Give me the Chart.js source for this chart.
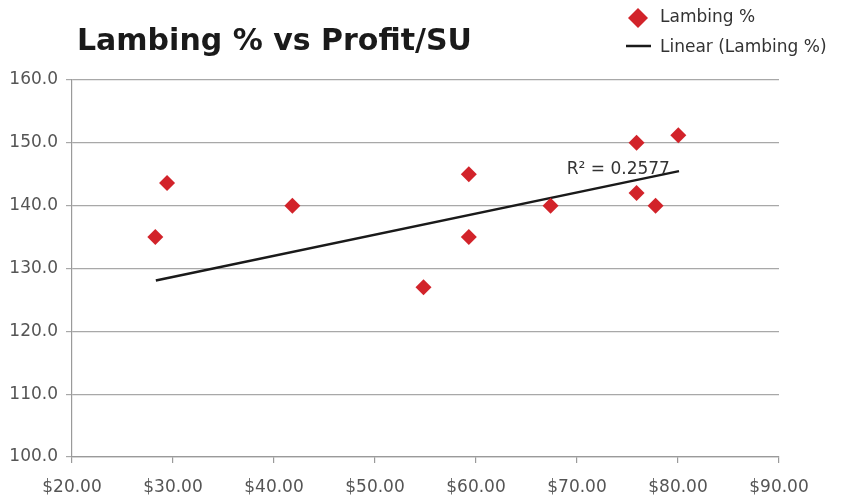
<!DOCTYPE html>
<html>
<head>
<meta charset="utf-8">
<script src="https://cdn.jsdelivr.net/npm/chart.js@4"></script>
<style>
html,body{margin:0;padding:0;background:#fff;}
#wrap{width:845px;height:499px;position:relative;}
</style>
</head>
<body>
<div id="wrap"><canvas id="c" width="845" height="499"></canvas></div>
<script>
// Data
const profitPerSU = [28.25, 29.41, 41.82, 54.80, 59.29, 59.29, 67.38, 75.90, 75.90, 77.78, 80.03];
const lambingPct  = [135.0, 143.6, 140.0, 127.0, 145.0, 135.0, 140.0, 150.0, 142.0, 140.0, 151.2];
const trendX = [28.3, 80.1];
const trendY = [128.1, 145.5];
const xTicks = [20, 30, 40, 50, 60, 70, 80, 90];
const yTicks = [100, 110, 120, 130, 140, 150, 160];
const chartTitle = "Lambing % vs Profit/SU";
const seriesName = "Lambing %";
const trendName = "Linear (Lambing %)";
const r2Label = "R² = 0.2577";
const r2Pos = {x: 79.2, y: 145.7};

const RED = '#D2232A';
const FONT = "'DejaVu Sans', sans-serif";

const scatterData = profitPerSU.map((x, i) => ({x: x, y: lambingPct[i]}));
const trendData = trendX.map((x, i) => ({x: x, y: trendY[i]}));

const extras = {
  id: 'extras',
  afterDraw(chart) {
    const ctx = chart.ctx;
    ctx.save();
    // Title
    ctx.fillStyle = '#1a1a1a';
    ctx.font = "bold 30px " + FONT;
    ctx.textBaseline = 'middle';
    ctx.textAlign = 'left';
    ctx.fillText(chartTitle, 77, 42);
    // Legend
    ctx.font = "17px " + FONT;
    const dx = 638, dy = 18, r = 10;
    ctx.beginPath();
    ctx.moveTo(dx, dy - r); ctx.lineTo(dx + r, dy); ctx.lineTo(dx, dy + r); ctx.lineTo(dx - r, dy);
    ctx.closePath();
    ctx.fillStyle = RED; ctx.fill();
    ctx.fillStyle = '#333';
    ctx.fillText(seriesName, 660, 18);
    ctx.strokeStyle = '#1a1a1a'; ctx.lineWidth = 2.5;
    ctx.beginPath(); ctx.moveTo(626, 46); ctx.lineTo(651, 46); ctx.stroke();
    ctx.fillText(trendName, 660, 48);
    // R² label
    const xs = chart.scales.x, ys = chart.scales.y;
    ctx.font = "17px " + FONT;
    ctx.fillStyle = '#333';
    ctx.textAlign = 'right';
    ctx.fillText(r2Label, xs.getPixelForValue(r2Pos.x), ys.getPixelForValue(r2Pos.y));
    ctx.restore();
  }
};

new Chart(document.getElementById('c'), {
  type: 'scatter',
  data: {
    datasets: [
      {
        label: trendName,
        data: trendData,
        showLine: true,
        borderColor: '#1a1a1a',
        borderWidth: 2.5,
        pointRadius: 0,
        fill: false,
        order: 2
      },
      {
        label: seriesName,
        data: scatterData,
        pointStyle: 'rectRot',
        pointRadius: 8,
        pointHoverRadius: 8,
        backgroundColor: RED,
        borderColor: RED,
        borderWidth: 0,
        order: 1
      }
    ]
  },
  options: {
    responsive: false,
    animation: false,
    events: [],
    layout: {padding: {top: 80, right: 66, left: 0, bottom: 0}},
    plugins: {legend: {display: false}, title: {display: false}, tooltip: {enabled: false}},
    scales: {
      x: {
        type: 'linear',
        min: xTicks[0], max: xTicks[xTicks.length - 1],
        afterBuildTicks: s => { s.ticks = xTicks.map(v => ({value: v})); },
        afterFit: s => { s.height = 42; },
        grid: {drawOnChartArea: false, color: '#9a9a9a', tickLength: 6, lineWidth: 1.2},
        border: {color: '#9a9a9a', width: 1.2},
        ticks: {
          color: '#555', font: {family: FONT, size: 17}, padding: 14,
          maxRotation: 0,
          callback: v => '$' + Number(v).toFixed(2)
        }
      },
      y: {
        type: 'linear',
        min: yTicks[0], max: yTicks[yTicks.length - 1],
        afterBuildTicks: s => { s.ticks = yTicks.map(v => ({value: v})); },
        afterFit: s => { s.width = 72; },
        grid: {color: '#a8a8a8', tickLength: 6, lineWidth: 1.2},
        border: {color: '#9a9a9a', width: 1.2},
        ticks: {
          color: '#555', font: {family: FONT, size: 17}, padding: 8,
          callback: v => Number(v).toFixed(1)
        }
      }
    }
  },
  plugins: [extras]
});
</script>
</body>
</html>
